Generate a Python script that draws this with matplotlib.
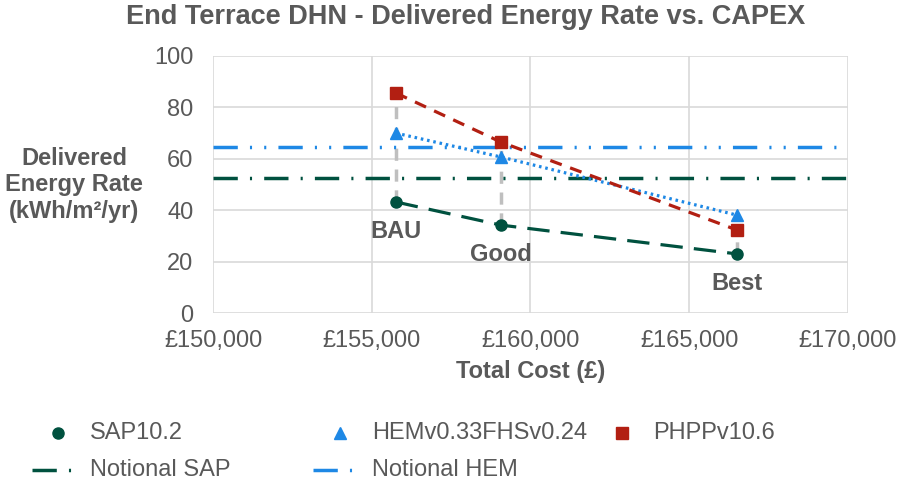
import numpy as np
import matplotlib
matplotlib.use("Agg")
from matplotlib import pyplot as plt
from matplotlib.lines import Line2D

plt.rcParams['font.family'] = ['Liberation Sans', 'DejaVu Sans']

# data
options = ['BAU', 'Good', 'Best']
total_cost = [155760, 159070, 166500]
sap = [43.2, 34.2, 23.0]
hem = [70.0, 60.7, 38.1]
phpp = [85.6, 66.5, 32.3]
notional_sap = 52.5
notional_hem = 64.6

grey = '#595959'
green = '#00513F'
blue = '#1E88E5'
red = '#B21F12'

ls_not_sap = (0, (7, 3.5, 0.6, 3.5))
ls_not_hem = (0, (7, 3.5, 0.6, 3.5, 0.6, 3.5))

fig = plt.figure(figsize=(9.08, 4.84), dpi=100)
ax = fig.add_axes([0.2346, 0.3533, 0.6993, 0.531])

# grey drop lines between lowest and highest
for x, lo, hi in zip(total_cost, sap, phpp):
    ax.plot([x, x], [lo, hi], color='#BFBFBF', lw=2.5, ls=(0, (3.5, 2.5)), zorder=2)

ax.axhline(notional_sap, color=green, lw=2.5, ls=ls_not_sap, zorder=3)
ax.axhline(notional_hem, color=blue, lw=2.5, ls=ls_not_hem, zorder=3)

ax.plot(total_cost, sap, color=green, lw=2.3, ls=(0, (7, 3.5)), marker='o', ms=8, zorder=4)
ax.plot(total_cost, hem, color=blue, lw=2.3, ls=(0, (0.8, 1.2)), marker='^', ms=9, zorder=4)
ax.plot(total_cost, phpp, color=red, lw=2.3, ls=(0, (3.8, 2.8)), marker='s', ms=8, zorder=4)

for name, x, y in zip(options, total_cost, sap):
    ax.annotate(name, (x, y), xytext=(0, -21), textcoords='offset points',
                ha='center', va='center', fontsize=17, fontweight='bold', color=grey)

ax.set_xlim(150000, 170000)
ax.set_ylim(0, 100)
ax.set_xticks(np.arange(150000, 170001, 5000))
ax.set_xticklabels(['£{:,}'.format(v) for v in range(150000, 170001, 5000)])
ax.set_yticks(np.arange(0, 101, 20))
ax.grid(True, color='#D9D9D9', lw=1.2, zorder=0)
ax.set_axisbelow(True)
for s in ax.spines.values():
    s.set_visible(False)
ax.tick_params(length=0, labelsize=17, colors=grey)
ax.tick_params(axis='x', pad=12)
ax.tick_params(axis='y', pad=14)

ax.set_xlabel('Total Cost (£)', fontsize=17, fontweight='bold', color=grey, labelpad=6)
fig.text(0.0815, 0.618, 'Delivered\nEnergy Rate\n(kWh/m²/yr)', ha='center', va='center',
         fontsize=17, fontweight='bold', color=grey, linespacing=1.2)

fig.suptitle('End Terrace DHN - Delivered Energy Rate vs. CAPEX', x=0.513, y=0.992,
             fontsize=19.5, fontweight='bold', color=grey)

# legend laid out by hand to follow the original column positions
row1 = 1 - 433 / 484
row2 = 1 - 470 / 484
W = 908.0
entries = [
    (58, row1, dict(color=green, marker='o', ms=8, ls='none'), 'SAP10.2', 90),
    (340, row1, dict(color=blue, marker='^', ms=9, ls='none'), 'HEMv0.33FHSv0.24', 372),
    (622, row1, dict(color=red, marker='s', ms=8, ls='none'), 'PHPPv10.6', 653),
]
for mx, y, style, label, tx in entries:
    fig.add_artist(Line2D([mx / W], [y], transform=fig.transFigure, **style))
    fig.text(tx / W, y, label, fontsize=17, color=grey, va='center', ha='left')

line_entries = [
    (32, green, 'Notional SAP', 90),
    (313, blue, 'Notional HEM', 372),
]
for x0, col, label, tx in line_entries:
    fig.add_artist(Line2D([x0 / W, (x0 + 42) / W], [row2, row2], transform=fig.transFigure,
                          color=col, lw=2.5, ls=(0, (7, 3.5, 0.6, 3.5))))
    fig.text(tx / W, row2, label, fontsize=17, color=grey, va='center', ha='left')

fig.savefig('out.png', dpi=100)
